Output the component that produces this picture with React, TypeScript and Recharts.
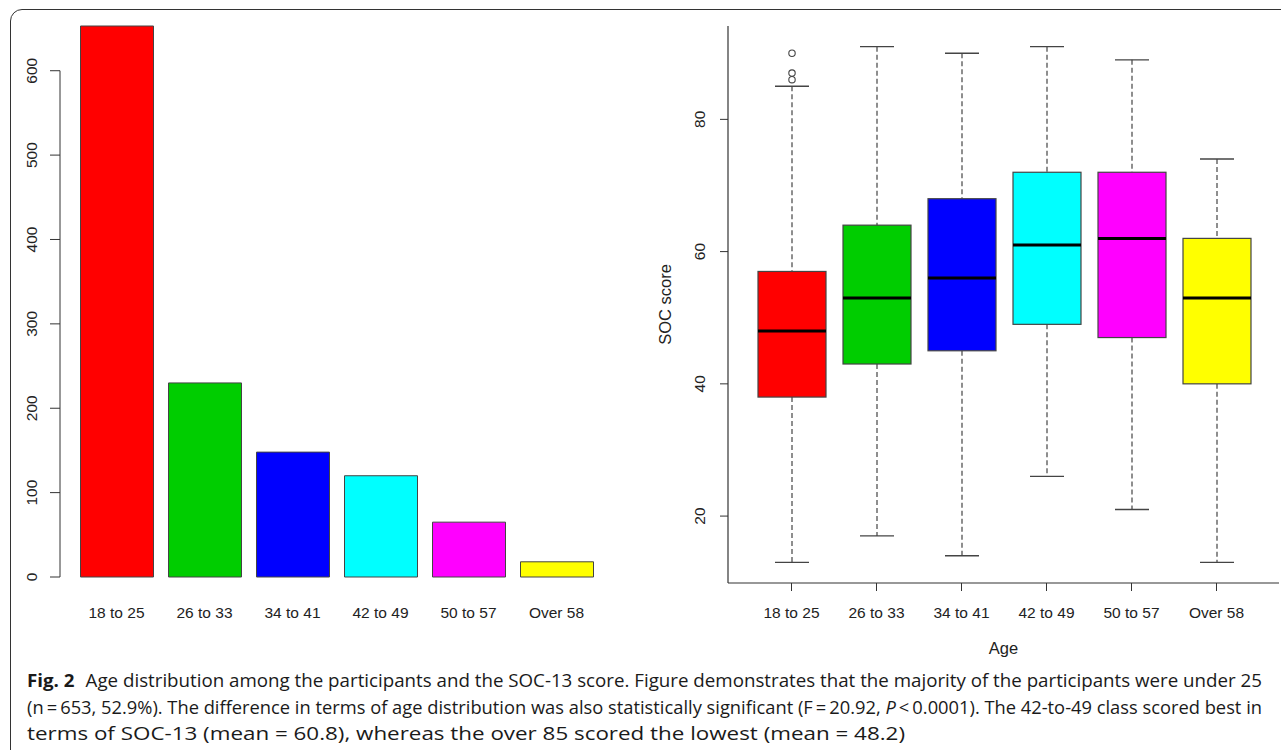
import React from 'react';
import { BarChart, Bar, XAxis, YAxis, Cell, ComposedChart } from 'recharts';

// ---------- data ----------
const AGE_GROUPS = ['18 to 25', '26 to 33', '34 to 41', '42 to 49', '50 to 57', 'Over 58'];
const COUNTS = [653, 230, 148, 120, 65, 18];
const COUNT_TICKS = [0, 100, 200, 300, 400, 500, 600];
const COUNT_DOMAIN = [0, 653];

const SOC_MIN = [13, 17, 14, 26, 21, 13];
const SOC_Q1 = [38, 43, 45, 49, 47, 40];
const SOC_MEDIAN = [48, 53, 56, 61, 62, 53];
const SOC_Q3 = [57, 64, 68, 72, 72, 62];
const SOC_MAX = [85, 91, 90, 91, 89, 74];
const SOC_OUTLIERS = [[86, 87, 90], [], [], [], [], []];
const SOC_TICKS = [20, 40, 60, 80];
const SOC_DOMAIN = [9.88, 94.12];

const COLORS = ['#FF0000', '#00CD00', '#0000FF', '#00FFFF', '#FF00FF', '#FFFF00'];

const barData = AGE_GROUPS.map((age, i) => ({ age, count: COUNTS[i] }));
const boxData = AGE_GROUPS.map((age, i) => ({
  age,
  box: [SOC_Q1[i], SOC_Q3[i]],
  q1: SOC_Q1[i],
  q3: SOC_Q3[i],
  median: SOC_MEDIAN[i],
  min: SOC_MIN[i],
  max: SOC_MAX[i],
  outliers: SOC_OUTLIERS[i],
}));

// ---------- styles ----------
const AXIS_FONT = '"Liberation Sans", Arial, Helvetica, sans-serif';
const TEXT_COLOR = '#222';
const LINE_COLOR = '#333';

const makeXTick = (dy: number) => (p: any) => (
  <text
    x={p.x}
    y={p.y}
    dy={dy}
    textAnchor="middle"
    fontFamily={AXIS_FONT}
    fontSize={15.5}
    fill={TEXT_COLOR}
  >
    {p.payload.value}
  </text>
);

const makeYTick = (off: number) => (p: any) => {
  const cx = p.x - off;
  return (
    <text
      x={cx}
      y={p.y}
      dy="0.35em"
      textAnchor="middle"
      transform={`rotate(-90 ${cx} ${p.y})`}
      fontFamily={AXIS_FONT}
      fontSize={15.5}
      fill={TEXT_COLOR}
    >
      {p.payload.value}
    </text>
  );
};

// ---------- left chart geometry ----------
const L_W = 620;
const L_H = 660;
const L_TOP = 26;
const L_XAXIS_H = 50;
const L_BOTTOM = L_H - 577 - L_XAXIS_H;
const L_PLOT_H = L_H - L_TOP - L_BOTTOM - L_XAXIS_H;
const L_K = L_PLOT_H / (COUNT_DOMAIN[1] - COUNT_DOMAIN[0]);
const L_GAP_TOP = (COUNT_DOMAIN[1] - COUNT_TICKS[COUNT_TICKS.length - 1]) * L_K;
const L_LINE_LEN = (COUNT_TICKS[COUNT_TICKS.length - 1] - COUNT_TICKS[0]) * L_K;

const LeftChart = () => (
  <BarChart
    width={L_W}
    height={L_H}
    data={barData}
    margin={{ top: L_TOP, right: 19.5, bottom: L_BOTTOM, left: 0 }}
    barSize={73}
  >
    <XAxis
      dataKey="age"
      type="category"
      height={L_XAXIS_H}
      axisLine={false}
      tickLine={false}
      tickSize={0}
      tickMargin={0}
      interval={0}
      padding={{ left: 12.5, right: 0 }}
      tick={makeXTick(40.5)}
    />
    <YAxis
      type="number"
      domain={COUNT_DOMAIN}
      ticks={COUNT_TICKS}
      interval={0}
      width={60}
      tickSize={10}
      tickMargin={0}
      tickLine={{ stroke: LINE_COLOR, strokeWidth: 1 }}
      axisLine={{
        stroke: LINE_COLOR,
        strokeWidth: 1,
        strokeDasharray: `0 ${L_GAP_TOP} ${L_LINE_LEN} 2000`,
      }}
      tick={makeYTick(18)}
    />
    <Bar dataKey="count" stroke="#444" strokeWidth={1} isAnimationActive={false}>
      {barData.map((d, i) => (
        <Cell key={d.age} fill={COLORS[i]} />
      ))}
    </Bar>
  </BarChart>
);

// ---------- right chart ----------
const BoxShape = (props: any) => {
  const { x, y, width, height, index, payload } = props;
  const top = Math.min(y, y + height);
  const h = Math.abs(height);
  const k = h / (payload.q3 - payload.q1);
  const py = (v: number) => top + (payload.q3 - v) * k;
  const cx = x + width / 2;
  const capHalf = width / 4;
  const wc = '#444';
  return (
    <g>
      <line x1={cx} x2={cx} y1={py(payload.max)} y2={top} stroke={wc} strokeWidth={1.2} strokeDasharray="5 3" />
      <line x1={cx} x2={cx} y1={top + h} y2={py(payload.min)} stroke={wc} strokeWidth={1.2} strokeDasharray="5 3" />
      <line x1={cx - capHalf} x2={cx + capHalf} y1={py(payload.max)} y2={py(payload.max)} stroke={wc} strokeWidth={1.4} />
      <line x1={cx - capHalf} x2={cx + capHalf} y1={py(payload.min)} y2={py(payload.min)} stroke={wc} strokeWidth={1.4} />
      <rect x={x} y={top} width={width} height={h} fill={COLORS[index]} stroke={wc} strokeWidth={1.2} />
      <line x1={x} x2={x + width} y1={py(payload.median)} y2={py(payload.median)} stroke="#000" strokeWidth={3} />
      {payload.outliers.map((o: number, j: number) => (
        <circle key={j} cx={cx} cy={py(o)} r={3.2} fill="none" stroke={wc} strokeWidth={1.1} />
      ))}
    </g>
  );
};

const AgeLabel = (props: any) => {
  const vb = props.viewBox || {};
  return (
    <text
      x={vb.x + vb.width / 2}
      y={vb.y + 71}
      textAnchor="middle"
      fontFamily={AXIS_FONT}
      fontSize={16.5}
      fill={TEXT_COLOR}
    >
      Age
    </text>
  );
};

const SocLabel = (props: any) => {
  const vb = props.viewBox || {};
  const cx = vb.x + 45;
  const cy = vb.y + vb.height / 2;
  return (
    <text
      x={cx}
      y={cy}
      dy="0.35em"
      textAnchor="middle"
      transform={`rotate(-90 ${cx} ${cy})`}
      fontFamily={AXIS_FONT}
      fontSize={16.5}
      fill={TEXT_COLOR}
    >
      SOC score
    </text>
  );
};

const R_W = 680;
const R_H = 700;
const R_XAXIS_H = 90;

const RightChart = () => (
  <ComposedChart
    width={R_W}
    height={R_H}
    data={boxData}
    margin={{ top: 26, right: 21, bottom: R_H - 583 - R_XAXIS_H, left: 0 }}
    barSize={68}
  >
    <XAxis
      dataKey="age"
      type="category"
      height={R_XAXIS_H}
      padding={{ left: 21, right: 20 }}
      interval={0}
      tickSize={8}
      tickMargin={0}
      tickLine={{ stroke: LINE_COLOR, strokeWidth: 1 }}
      axisLine={{ stroke: LINE_COLOR, strokeWidth: 1.2 }}
      tick={makeXTick(27)}
      label={<AgeLabel />}
    />
    <XAxis
      xAxisId="top"
      orientation="top"
      dataKey="age"
      type="category"
      height={0}
      tick={false}
      tickLine={false}
      axisLine={{ stroke: LINE_COLOR, strokeWidth: 1.2 }}
    />
    <YAxis
      type="number"
      domain={SOC_DOMAIN}
      ticks={SOC_TICKS}
      interval={0}
      width={108}
      tickSize={8}
      tickMargin={0}
      tickLine={{ stroke: LINE_COLOR, strokeWidth: 1 }}
      axisLine={{ stroke: LINE_COLOR, strokeWidth: 1.2 }}
      tick={makeYTick(20)}
      label={<SocLabel />}
    />
    <YAxis
      yAxisId="right"
      orientation="right"
      type="number"
      domain={[0, 1]}
      width={0}
      tick={false}
      tickLine={false}
      axisLine={{ stroke: LINE_COLOR, strokeWidth: 1.2 }}
    />
    <Bar dataKey="box" shape={BoxShape} isAnimationActive={false} />
  </ComposedChart>
);

// ---------- caption ----------
const CAP_FONT = '"Open Sans", "Noto Sans", sans-serif';
const THIN = '\u2009';

const Caption = () => (
  <svg width={1281} height={90} style={{ position: 'absolute', left: 0, top: 660 }}>
    <g fontFamily={CAP_FONT} fontSize={18} fill="#1a1a1a">
      <text x={27} y={27} textLength={1235} lengthAdjust="spacingAndGlyphs">
        <tspan fontWeight={700}>Fig. 2</tspan>
        <tspan dx={6}>{' Age distribution among the participants and the SOC-13 score. Figure demonstrates that the majority of the participants were under 25'}</tspan>
      </text>
      <text x={27} y={53.5} textLength={1235} lengthAdjust="spacingAndGlyphs">
        {`(n${THIN}=${THIN}653, 52.9%). The difference in terms of age distribution was also statistically significant (F${THIN}=${THIN}20.92, `}
        <tspan fontStyle="italic">P</tspan>
        {`${THIN}<${THIN}0.0001). The 42-to-49 class scored best in`}
      </text>
      <text x={27} y={79.5} textLength={878} lengthAdjust="spacingAndGlyphs">
        {`terms of SOC-13 (mean = 60.8), whereas the over 85 scored the lowest (mean = 48.2)`}
      </text>
    </g>
  </svg>
);

export default function App() {
  return (
    <div
      style={{
        position: 'absolute',
        left: 0,
        top: 0,
        width: 1281,
        height: 750,
        overflow: 'hidden',
        background: '#fff',
      }}
    >
      <div
        style={{
          position: 'absolute',
          left: 10,
          top: 9,
          width: 1400,
          height: 900,
          border: '1.5px solid #333',
          borderRadius: 12,
          boxSizing: 'border-box',
        }}
      />
      <div style={{ position: 'absolute', left: 0, top: 0 }}>
        <LeftChart />
      </div>
      <div style={{ position: 'absolute', left: 620, top: 0 }}>
        <RightChart />
      </div>
      <Caption />
    </div>
  );
}
